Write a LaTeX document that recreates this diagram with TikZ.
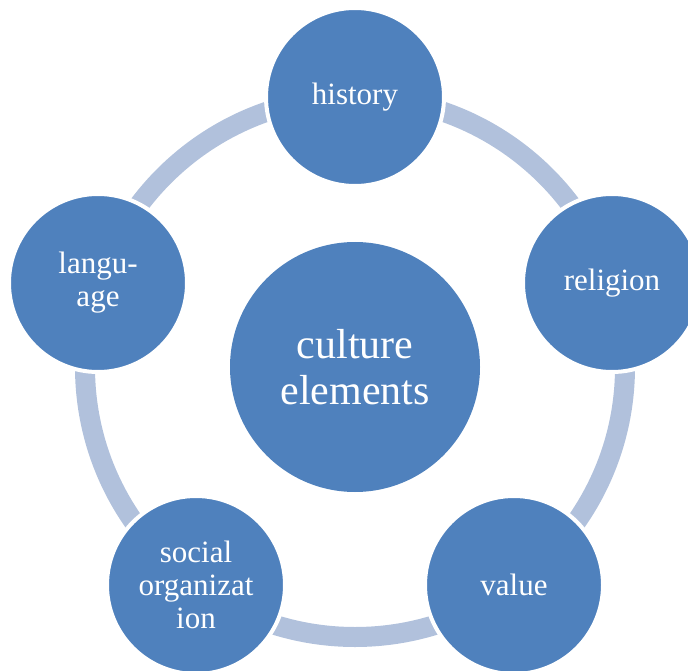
\documentclass[tikz,border=0pt]{standalone}
\usepackage{fontspec}
\setmainfont{Liberation Serif}
\definecolor{accblue}{HTML}{4F81BD}
\definecolor{ringblue}{HTML}{B1C1DC}
\begin{document}
\begin{tikzpicture}[x=1pt,y=-1pt,
  outer/.style={circle,fill=accblue,draw=white,line width=4pt,minimum size=178pt,inner sep=0pt,
    text=white,align=center,font=\fontsize{31}{33}\selectfont},
  hub/.style={circle,fill=accblue,minimum size=250pt,inner sep=0pt,
    text=white,align=center,font=\fontsize{42}{46}\selectfont},
  ring/.style={draw=ringblue,line width=20pt}]
\useasboundingbox (0,0) rectangle (688,671);
\clip (0,0) rectangle (688,671);
\coordinate (ctr) at (355,367);
\draw[ring] (ctr) circle (270pt);
\node[hub] (c) at (ctr) {culture\\elements};
\node[outer] (h) at (355,97) {history};
\node[outer] (r) at (612,283) {religion};
\node[outer] (v) at (514,585) {value};
\node[outer] (s) at (196,585) {social\\organizat\\ion};
\node[outer] (l) at (98,283) {langu-\\age};
\end{tikzpicture}
\end{document}
